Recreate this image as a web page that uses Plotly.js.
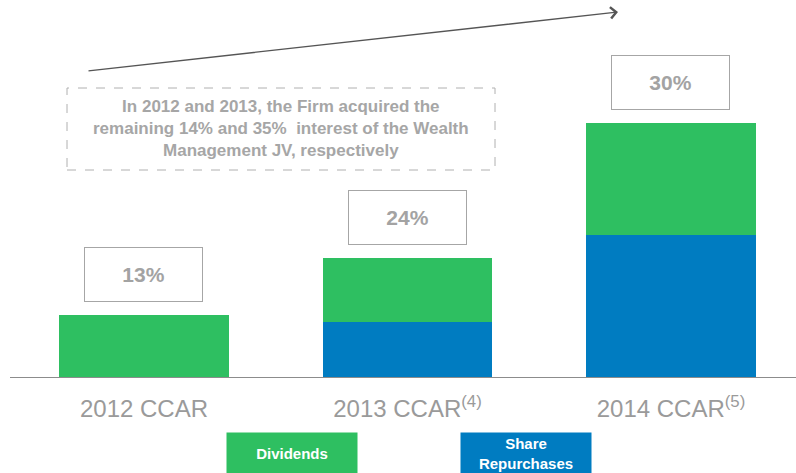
<!DOCTYPE html>
<html>
<head>
<meta charset="utf-8">
<script src="https://cdn.plot.ly/plotly-3.0.1.min.js"></script>
<style>
  html, body { margin: 0; padding: 0; background: #fff; }
  #myDiv { width: 796px; height: 473px; }
</style>
</head>
<body>
<div id="myDiv"></div>
<script>
const categories = ["2012 CCAR", "2013 CCAR<sup>(4)</sup>", "2014 CCAR<sup>(5)</sup>"];
const repurchases = [0, 0.55, 1.42];
const dividends = [0.62, 0.64, 1.12];
const payoutLabels = ["13%", "24%", "30%"];
const seriesNames = ["Dividends", "Share<br>Repurchases"];

const green = "rgb(46,191,97)";
const blue = "rgb(0,124,193)";

const trace1 = {
  x: categories,
  y: repurchases,
  type: "bar",
  name: seriesNames[1],
  marker: { color: blue },
  width: 0.645,
  hoverinfo: "skip",
};

const trace2 = {
  x: categories,
  y: dividends,
  type: "bar",
  name: seriesNames[0],
  marker: { color: green },
  width: 0.645,
  hoverinfo: "skip",
};

// percentage boxes sit just above each stack
const annotations = categories.map((c, i) => ({
  x: c,
  y: repurchases[i] + dividends[i],
  yanchor: "bottom",
  yshift: 13,
  text: payoutLabels[i],
  showarrow: false,
  width: 117,
  height: 53,
  bordercolor: "#a6a6a6",
  borderwidth: 1,
  borderpad: 0,
  bgcolor: "#fff",
  font: { family: "Liberation Sans, Arial", size: 21, color: "#a3a3a3", weight: "bold" },
}));

// note inside the dashed box
annotations.push({
  xref: "paper", yref: "paper",
  x: (281 - 10) / 786, y: (377 - 128) / 377,
  text: "In 2012 and 2013, the Firm acquired the<br>remaining 14% and 35%  interest of the Wealth<br>Management JV, respectively",
  showarrow: false,
  align: "center",
  font: { family: "Liberation Sans, Arial", size: 17, color: "#a6a6a6", weight: "bold" },
});

// growth arrow
annotations.push({
  xref: "paper", yref: "paper",
  x: (618 - 10) / 786, y: (377 - 12) / 377,
  ax: -531, ay: 59,
  text: "",
  showarrow: true,
  arrowhead: 4,
  arrowsize: 1.7,
  arrowwidth: 1.3,
  arrowcolor: "#555",
});

// legend boxes
const legendX = [292, 526];
const legendColors = [green, blue];
seriesNames.forEach((n, i) => {
  annotations.push({
    xref: "paper", yref: "paper",
    x: (legendX[i] - 10) / 786, y: (377 - 432) / 377,
    yanchor: "top",
    text: n,
    showarrow: false,
    width: 130,
    height: 41,
    bgcolor: legendColors[i],
    borderpad: 0,
    font: { family: "Liberation Sans, Arial", size: 15, color: "#fff", weight: "bold" },
  });
});

const layout = {
  width: 796,
  height: 473,
  margin: { l: 10, r: 0, t: 0, b: 96 },
  paper_bgcolor: "#fff",
  plot_bgcolor: "#fff",
  barmode: "stack",
  showlegend: false,
  xaxis: {
    type: "category",
    range: [-0.5085, 2.4744],
    showline: true,
    linecolor: "#8c8c8c",
    linewidth: 1,
    showgrid: false,
    ticks: "",
    ticklabelstandoff: 10,
    tickfont: { family: "Liberation Sans, Arial", size: 24, color: "#9a9a9a" },
  },
  yaxis: {
    range: [0, 3.77],
    visible: false,
  },
  shapes: [{
    type: "rect",
    xref: "paper", yref: "paper",
    x0: (67 - 10) / 786, x1: (495 - 10) / 786,
    y0: (377 - 170) / 377, y1: (377 - 88) / 377,
    line: { color: "#b0b0b0", width: 1, dash: "dash" },
  }],
  annotations: annotations,
};

Plotly.newPlot("myDiv", [trace1, trace2], layout, { displayModeBar: false, staticPlot: true });
</script>
</body>
</html>
